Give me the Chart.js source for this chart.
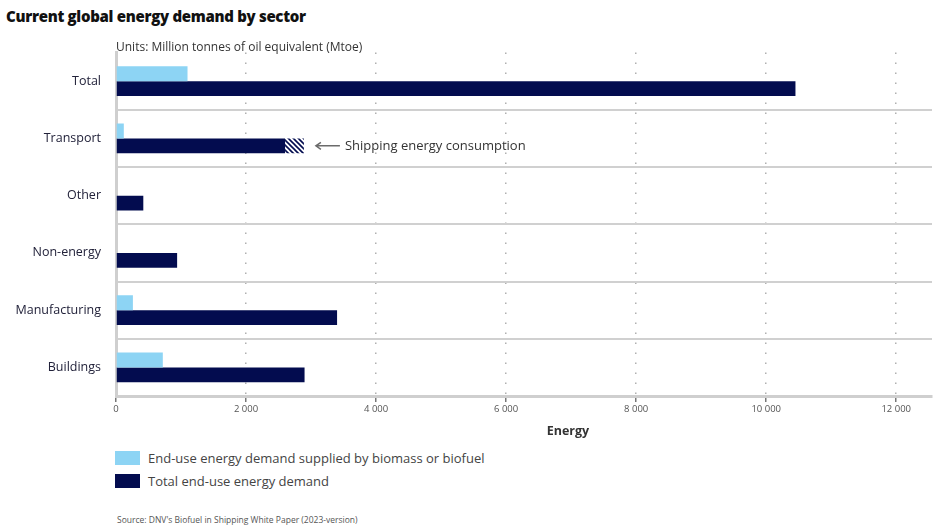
<!DOCTYPE html>
<html>
<head>
<meta charset="utf-8">
<script src="https://cdn.jsdelivr.net/npm/chart.js@4.4.1/dist/chart.umd.min.js"></script>
<style>
  body { margin: 0; width: 934px; height: 526px; overflow: hidden; background: #fff; position: relative; font-family: "Open Sans", sans-serif; }
  .txt { position: absolute; white-space: nowrap; }
  #title { left: 6px; top: 6px; font-size: 15px; line-height: 20px; font-weight: 800; color: #111; letter-spacing: -0.3px; }
  #units { left: 116px; top: 39px; font-size: 12px; line-height: 16px; color: #333; }
  #wrap { position: absolute; left: 0; top: 30px; width: 934px; height: 400px; }
  #xtitle { left: 568px; top: 423px; transform: translateX(-50%); font-size: 12.5px; line-height: 16px; font-weight: 700; color: #333; }
  .leg { left: 115px; font-size: 13px; line-height: 18px; color: #444; }
  .leg span { display: inline-block; width: 25px; height: 14px; vertical-align: -2px; margin-right: 8px; }
  #source { left: 117px; top: 514px; font-size: 8.5px; line-height: 11px; color: #555; }
</style>
</head>
<body>
<div id="wrap"><canvas id="energyChart" width="934" height="400"></canvas></div>
<div id="title" class="txt">Current global energy demand by sector</div>
<div id="units" class="txt">Units: Million tonnes of oil equivalent (Mtoe)</div>
<div id="xtitle" class="txt">Energy</div>
<div class="txt leg" style="top:449px"><span style="background:#8dd4f4"></span>End-use energy demand supplied by biomass or biofuel</div>
<div class="txt leg" style="top:472px"><span style="background:#030c4f"></span>Total end-use energy demand</div>
<div id="source" class="txt">Source: DNV's Biofuel in Shipping White Paper (2023-version)</div>

<script>
// values (Mtoe)
const sectors = ["Total", "Transport", "Other", "Non-energy", "Manufacturing", "Buildings"];
const biofuelDemand = [1100, 120, 0, 0, 260, 720];
const totalDemand = [10450, 2600, 420, 940, 3400, 2900];
const shippingDemand = [0, 290, 0, 0, 0, 0];
const xTicks = [0, 2000, 4000, 6000, 8000, 10000, 12000];

const lightBlue = "#8dd4f4";
const navy = "#030c4f";

function hatchPattern() {
  const c = document.createElement("canvas");
  c.width = 5;
  c.height = 5;
  const g = c.getContext("2d");
  g.fillStyle = "#fff";
  g.fillRect(0, 0, 5, 5);
  g.strokeStyle = navy;
  g.lineWidth = 1.6;
  g.beginPath();
  g.moveTo(0, 0); g.lineTo(5, 5);
  g.moveTo(-1, 4); g.lineTo(1, 6);
  g.moveTo(4, -1); g.lineTo(6, 1);
  g.stroke();
  return g.createPattern(c, "repeat");
}

const fmt = (v) => String(v).replace(/\B(?=(\d{3})+(?!\d))/g, " ");

// arrow + label next to the hatched shipping part
const shippingNote = {
  id: "shippingNote",
  afterDatasetsDraw(chart) {
    const { ctx, scales: { x } } = chart;
    const bar = chart.getDatasetMeta(2).data[1];
    const xEnd = x.getPixelForValue(totalDemand[1] + shippingDemand[1]);
    const y = bar.y;
    ctx.save();
    ctx.strokeStyle = "#6b6b6b";
    ctx.lineWidth = 1.5;
    ctx.beginPath();
    ctx.moveTo(xEnd + 12, y);
    ctx.lineTo(xEnd + 36, y);
    ctx.moveTo(xEnd + 17, y - 3.5);
    ctx.lineTo(xEnd + 12, y);
    ctx.lineTo(xEnd + 17, y + 3.5);
    ctx.stroke();
    ctx.fillStyle = "#333";
    ctx.font = '13px "Open Sans"';
    ctx.textBaseline = "middle";
    ctx.fillText("Shipping energy consumption", xEnd + 41, y + 0.5);
    ctx.restore();
  },
};

Chart.defaults.font.family = '"Open Sans", sans-serif';

const ctx = document.getElementById("energyChart").getContext("2d");
new Chart(ctx, {
  type: "bar",
  data: {
    labels: sectors,
    datasets: [
      { label: "End-use energy demand supplied by biomass or biofuel", data: biofuelDemand, backgroundColor: lightBlue, stack: "bio" },
      { label: "Total end-use energy demand", data: totalDemand, backgroundColor: navy, stack: "total" },
      { label: "Shipping energy consumption", data: shippingDemand, backgroundColor: hatchPattern(), stack: "total" },
    ],
  },
  options: {
    indexAxis: "y",
    responsive: false,
    animation: false,
    devicePixelRatio: 1,
    categoryPercentage: 0.52,
    barPercentage: 1,
    layout: { padding: { left: 0, right: 2, top: 0, bottom: 10 } },
    plugins: { legend: { display: false }, tooltip: { enabled: false } },
    scales: {
      x: {
        min: 0,
        max: 12550,
        stacked: true,
        afterBuildTicks: (s) => { s.ticks = xTicks.map((v) => ({ value: v })); },
        afterFit: (s) => { s.height = 24; },
        grid: { color: "#b0b0b0", lineWidth: 1.5, tickLength: 6, tickColor: "#777", tickWidth: 1.5, tickBorderDash: [] },
        border: { color: "#cfcfcf", width: 3, dash: [1.5, 8.5] },
        ticks: { padding: 2, color: "#555", font: { size: 9.5 }, maxRotation: 0, callback: (v) => fmt(v) },
      },
      y: {
        afterFit: (s) => { s.width = 116; },
        grid: {
          offset: true,
          drawTicks: false,
          lineWidth: 2,
          color: (c) => (c.index === 0 ? "rgba(0,0,0,0)" : "#d0d0d0"),
        },
        border: { color: "#cfcfcf", width: 3 },
        ticks: { padding: 15, color: "#22223a", font: { size: 12.5 } },
      },
    },
  },
  plugins: [shippingNote],
});
</script>
</body>
</html>
